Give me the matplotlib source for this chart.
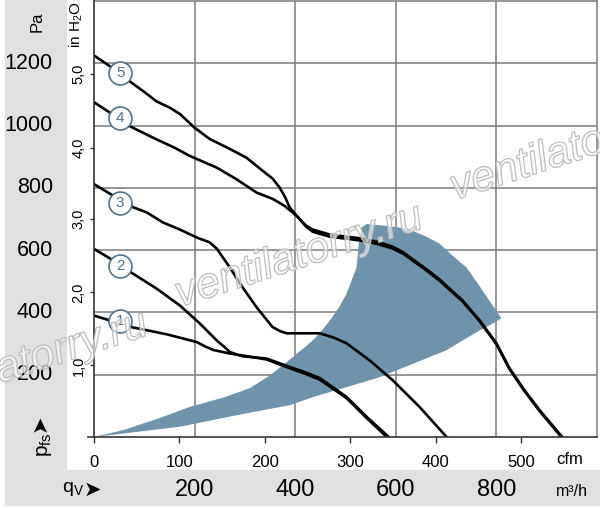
import numpy as np
import matplotlib
matplotlib.use("Agg")
import matplotlib.pyplot as plt
import matplotlib.patheffects as pe
from matplotlib import font_manager
from matplotlib.patches import Rectangle
from matplotlib.transforms import blended_transform_factory

# Fonts: a narrow sans if present, else Liberation Sans
names = {f.name for f in font_manager.fontManager.ttflist}
main_font = 'Liberation Sans Narrow' if 'Liberation Sans Narrow' in names else 'Liberation Sans'
plt.rcParams['font.family'] = [main_font, 'DejaVu Sans']
plt.rcParams['mathtext.fontset'] = 'custom'
plt.rcParams['mathtext.rm'] = main_font

# Data (x in m3/h, y in Pa)
curve5_x = [0, 32, 71, 100, 124, 150, 171, 200, 230, 270, 303, 336, 355, 369, 380, 389, 403, 422, 435, 469, 500, 534, 565, 594, 615, 634, 660, 687, 710, 733, 767, 800, 826, 856, 886, 931]
curve5_y = [1225, 1190, 1142, 1108, 1078, 1058, 1037, 993, 957, 925, 897, 854, 830, 801, 770, 737, 710, 678, 666, 650, 644, 637, 626, 611, 593, 570, 540, 506, 472, 438, 374, 301, 221, 150, 86, 0]
curve4_x = [0, 32, 71, 124, 160, 191, 244, 283, 323, 356, 379, 403, 422, 435, 469, 500, 534, 565, 594, 615, 634, 660, 687, 710, 733, 767, 800, 826, 856, 886, 929]
curve4_y = [1075, 1041, 998, 956, 929, 902, 865, 828, 785, 764, 742, 710, 675, 659, 643, 637, 630, 619, 605, 588, 566, 536, 502, 468, 435, 371, 298, 218, 147, 83, 0]
curve3_x = [0, 32, 71, 105, 137, 171, 205, 230, 244, 256, 272, 290, 323, 355, 370, 383, 415, 449, 475, 502, 548, 594, 647, 701]
curve3_y = [812, 781, 742, 721, 689, 666, 640, 625, 605, 577, 540, 493, 417, 353, 340, 333, 333, 333, 320, 301, 246, 182, 97, 0]
curve2_x = [0, 32, 77, 124, 171, 210, 244, 260, 270, 285, 296, 343, 389, 420, 449, 502, 542, 586]
curve2_y = [604, 573, 525, 477, 422, 365, 310, 288, 273, 264, 259, 252, 225, 208, 189, 129, 65, 0]
curve1_x = [0, 32, 77, 144, 204, 222, 238, 270, 310, 343, 389, 420, 449, 502, 542, 582]
curve1_y = [390, 374, 352, 330, 305, 290, 279, 268, 258, 249, 221, 203, 184, 125, 61, 0]
curves = [(curve1_x, curve1_y), (curve2_x, curve2_y), (curve3_x, curve3_y),
          (curve4_x, curve4_y), (curve5_x, curve5_y)]

# operating range (blue area): lower edge out, upper edge back
area_x = [0, 72, 171, 250, 303, 389, 435, 508, 568, 634, 700, 737, 767, 790, 810,
          786, 763, 740, 713, 687, 661, 634, 608, 581, 542, 532, 526, 522, 512, 502,
          487, 469, 453, 435, 419, 385, 350, 310, 260, 191, 131, 58, 0]
area_y = [0, 14, 33, 59, 76, 102, 128, 163, 192, 235, 278, 314, 342, 362, 381,
          438, 493, 545, 582, 621, 643, 662, 672, 678, 684, 673, 614, 545, 502, 460,
          416, 374, 342, 310, 288, 243, 198, 157, 128, 97, 61, 22, 0]

label_ids = ['1', '2', '3', '4', '5']
label_x = [52, 52, 52, 52, 52]
label_y = [374, 550, 750, 1024, 1168]

pa_ticks = [200, 400, 600, 800, 1000, 1200]
m3h_ticks = [200, 400, 600, 800]
cfm_ticks = [0, 100, 200, 300, 400, 500]
cfm_to_m3h = 1.699
inh2o_labels = ['1,0', '2,0', '3,0', '4,0', '5,0']
inh2o_pos = [230, 464, 701, 929, 1166]

gray_band = '#e0e0e0'
grid_color = '#7a7a7a'
area_color = '#6e93aa'
badge_color = '#52728a'

W, H = 600, 507
fig = plt.figure(figsize=(W / 100, H / 100), dpi=100)
fig.patches.append(Rectangle((5 / W, 37 / H), 61 / W, 1 - 37 / H, transform=fig.transFigure,
                             color=gray_band, zorder=-10))
fig.patches.append(Rectangle((5 / W, 2 / H), 1 - 5 / W, 35 / H, transform=fig.transFigure,
                             color=gray_band, zorder=-10))

ax = fig.add_axes([94 / W, 70 / H, 503 / W, 436 / H])
ax.set_facecolor('none')
ax.set_xlim(0, 1000)
ax.set_ylim(0, 1400)

for v in m3h_ticks:
    ax.axvline(v, color=grid_color, lw=1.1, zorder=1)
for v in pa_ticks:
    ax.axhline(v, color=grid_color, lw=1.1, zorder=1)

ax.fill(area_x, area_y, color=area_color, lw=0, zorder=2)

for cx, cy in curves:
    ax.plot(cx, cy, color='black', lw=1.9, zorder=4, solid_joinstyle='round')

for lid, lx, ly in zip(label_ids, label_x, label_y):
    ax.plot(lx, ly, 'o', ms=16.5, mfc='white', mec=badge_color, mew=1.2, zorder=5)
    ax.text(lx, ly, lid, ha='center', va='center', fontsize=11, color=badge_color, zorder=6)

for side in ['top', 'right']:
    ax.spines[side].set_color(grid_color)
    ax.spines[side].set_linewidth(1.1)
for side in ['left', 'bottom']:
    ax.spines[side].set_color('#333333')
    ax.spines[side].set_linewidth(1.2)
ax.spines['left'].set_zorder(7)
ax.spines['bottom'].set_zorder(7)
ax.plot([-12, 0], [0, 0], color='#333333', lw=1.2, clip_on=False, zorder=7)

# cfm scale on the bottom axis
ax.set_xticks([c * cfm_to_m3h for c in cfm_ticks])
ax.set_xticklabels([str(c) for c in cfm_ticks])
ax.tick_params(axis='x', length=4, width=1, color='#333333', pad=9, labelsize=12)
# in H2O scale on the left axis
ax.set_yticks(inh2o_pos)
ax.set_yticklabels(inh2o_labels, rotation=90, va='center')
ax.tick_params(axis='y', length=3, width=1, color='#333333', pad=3, labelsize=10.5)

fig.text(570 / W, 1 - 460 / H, 'cfm', ha='center', va='center', fontsize=12)
ax.text(-0.035, 1.0, 'in H$_\\mathregular{2}$O', transform=ax.transAxes, rotation=90,
        ha='center', va='top', fontsize=11)

# Pa scale in the left band
tr_y = blended_transform_factory(fig.transFigure, ax.transData)
for v in pa_ticks:
    fig.text(53 / W, v, str(v), transform=tr_y, ha='right', va='center', fontsize=15.5)
fig.text(37 / W, 1 - 22 / H, 'Pa', rotation=90, ha='center', va='center', fontsize=12)
fig.text(44 / W, 1 - 445 / H, 'p$_\\mathregular{fs}$', rotation=90, ha='center', va='center', fontsize=15)
fig.text(40 / W, 1 - 423 / H, '\u27a4', rotation=90, ha='center', va='center', fontsize=15,
         family='DejaVu Sans')

# m3/h scale in the bottom band
tr_x = blended_transform_factory(ax.transData, fig.transFigure)
for v in m3h_ticks:
    fig.text(v, 1 - 490 / H, str(v), transform=tr_x, ha='center', va='center', fontsize=17)
fig.text(572 / W, 1 - 492 / H, 'm\u00b3/h', ha='center', va='center', fontsize=11.5)
fig.text(73 / W, 1 - 489 / H, 'q$_\\mathregular{V}$', ha='center', va='center', fontsize=14)
fig.text(92 / W, 1 - 490 / H, '\u27a4', ha='center', va='center', fontsize=15, family='DejaVu Sans')

# watermark
for sx, sy in [(-95, 414), (180, 307), (455, 200)]:
    fig.text(sx / W, 1 - sy / H, 'ventilatorry.ru', rotation=18, rotation_mode='anchor',
             ha='left', va='baseline', fontsize=31, style='italic', color=(1, 1, 1, 0.35),
             path_effects=[pe.Stroke(linewidth=1.0, foreground='#b5b5b5'), pe.Normal()],
             zorder=8)

fig.savefig('out.png', dpi=100)
